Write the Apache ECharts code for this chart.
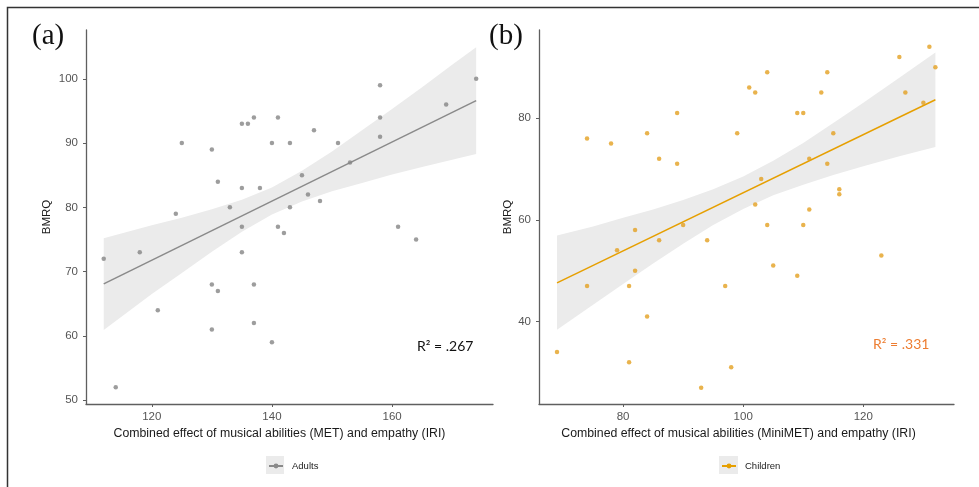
<!DOCTYPE html>
<html>
<head>
<meta charset="utf-8">
<title>BMRQ vs combined effect</title>
<script src="https://cdn.jsdelivr.net/npm/echarts@6/dist/echarts.min.js"></script>
<style>
  html, body { margin: 0; padding: 0; background: #fff; }
  #chart { width: 979px; height: 487px; }
</style>
</head>
<body>
<div id="chart"></div>
<script>
// (a) adults
var adultsX = [112,114,118,121,124,125,130,130,130,131,131,133,135,135,135,135,136,137,137,137,138,140,140,141,141,142,143,143,145,146,147,148,151,153,158,158,158,161,164,169,174];
var adultsY = [72,52,73,64,79,90,89,68,61,84,67,80,93,83,77,73,93,94,68,62,83,90,59,94,77,76,90,80,85,82,92,81,90,87,99,94,91,77,75,96,100];
var adultsFitX = [112, 174];
var adultsFitY = [68.1, 96.6];
var adultsBandX = [112, 120, 125, 130, 135, 140, 145, 150, 155, 160, 165, 170, 174];
var adultsBandLow = [60.9, 66.5, 69.8, 73.1, 76.2, 78.9, 80.9, 82.5, 83.8, 85.1, 86.3, 87.4, 88.3];
var adultsBandHigh = [75.2, 77.2, 78.4, 79.7, 81.2, 83.1, 85.7, 88.7, 92.0, 95.3, 98.7, 102.2, 104.9];
var adultsXTicks = [120, 140, 160];
var adultsYTicks = [50, 60, 70, 80, 90, 100];

// (b) children
var childX = [69,74,74,78,79,81,81,82,82,84,84,86,86,89,89,90,93,94,97,98,99,101,102,102,103,104,104,105,109,109,110,110,111,111,113,114,114,115,116,116,123,126,127,130,131,132];
var childY = [34,76,47,75,54,47,32,58,50,77,41,72,56,81,71,59,27,56,47,31,77,86,85,63,68,89,59,51,81,49,81,59,72,62,85,89,71,77,66,65,53,92,85,83,94,90];
var childFitX = [69, 132];
var childFitY = [47.6, 83.6];
var childBandX = [69, 75, 80, 85, 90, 95, 100, 105, 110, 115, 120, 126, 132];
var childBandLow = [38.4, 43.3, 47.4, 51.4, 55.3, 59.0, 62.1, 64.8, 66.9, 68.8, 70.5, 72.5, 74.3];
var childBandHigh = [56.9, 58.7, 60.4, 62.0, 63.9, 66.0, 68.5, 71.6, 75.1, 79.0, 83.0, 87.9, 92.9];
var childXTicks = [80, 100, 120];
var childYTicks = [40, 60, 80];

var font = 'Liberation Sans, Arial, sans-serif';
var axisColor = '#5f5f5f';

function pairs(xs, ys) {
  return xs.map(function (x, i) { return [x, ys[i]]; });
}

function bandItem(xs, lo, hi) {
  return function (params, api) {
    var pts = [];
    for (var i = 0; i < xs.length; i++) pts.push(api.coord([xs[i], hi[i]]));
    for (var j = xs.length - 1; j >= 0; j--) pts.push(api.coord([xs[j], lo[j]]));
    return { type: 'polygon', shape: { points: pts }, style: { fill: '#ebebeb' } };
  };
}

function xAxis(idx, min, max, ticks, name, shift) {
  return {
    type: 'value', gridIndex: idx, min: min, max: max,
    name: name, nameLocation: 'middle', nameGap: 21,
    nameTextStyle: { color: '#1a1a1a', fontSize: 12.3, fontFamily: font, padding: [0, shift, 0, 0] },
    splitLine: { show: false },
    axisLine: { onZero: false, lineStyle: { color: axisColor, width: 1.3 } },
    axisTick: { customValues: ticks, length: 3, lineStyle: { color: axisColor } },
    axisLabel: { customValues: ticks, color: '#555', fontSize: 11.5, margin: 7, fontFamily: font }
  };
}

function yAxis(idx, min, max, ticks, gap) {
  return {
    type: 'value', gridIndex: idx, min: min, max: max,
    name: 'BMRQ', nameLocation: 'middle', nameGap: gap,
    nameTextStyle: { color: '#1a1a1a', fontSize: 11.5, fontFamily: font },
    splitLine: { show: false },
    axisLine: { onZero: false, lineStyle: { color: axisColor, width: 1.3 } },
    axisTick: { customValues: ticks, length: 3, lineStyle: { color: axisColor } },
    axisLabel: { customValues: ticks, color: '#555', fontSize: 11.5, margin: 8, fontFamily: font }
  };
}

var chart = echarts.init(document.getElementById('chart'));
chart.setOption({
  animation: false,
  backgroundColor: '#fff',
  grid: [
    { left: 86, top: 30, width: 407, height: 374, outerBoundsMode: 'none' },
    { left: 539, top: 30, width: 415, height: 374, outerBoundsMode: 'none' }
  ],
  xAxis: [
    xAxis(0, 109.05, 176.8, adultsXTicks, 'Combined effect of musical abilities (MET) and empathy (IRI)', 20),
    xAxis(1, 66, 135.1, childXTicks, 'Combined effect of musical abilities (MiniMET) and empathy (IRI)', 16)
  ],
  yAxis: [
    yAxis(0, 49.4, 107.6, adultsYTicks, 33),
    yAxis(1, 23.8, 97.3, childYTicks, 23)
  ],
  legend: [
    { data: ['Adults'], left: 268, top: 461, padding: 0, itemWidth: 14, itemHeight: 6, itemGap: 0,
      textStyle: { fontSize: 9.5, color: '#222', fontFamily: font, padding: [0, 0, 0, 4] } },
    { data: ['Children'], left: 721, top: 461, padding: 0, itemWidth: 14, itemHeight: 6, itemGap: 0,
      textStyle: { fontSize: 9.5, color: '#222', fontFamily: font, padding: [0, 0, 0, 4] } }
  ],
  series: [
    { type: 'custom', xAxisIndex: 0, yAxisIndex: 0, z: 1, silent: true,
      renderItem: bandItem(adultsBandX, adultsBandLow, adultsBandHigh), data: [[adultsBandX[0], adultsBandLow[0]]] },
    { name: 'Adults', type: 'line', xAxisIndex: 0, yAxisIndex: 0, z: 2,
      data: pairs(adultsFitX, adultsFitY), showSymbol: false, symbol: 'circle', symbolSize: 4,
      itemStyle: { color: '#8a8a8a' }, lineStyle: { color: '#8a8a8a', width: 1.5 } },
    { type: 'scatter', xAxisIndex: 0, yAxisIndex: 0, z: 3,
      data: pairs(adultsX, adultsY), symbolSize: 4.5, itemStyle: { color: '#858585' } },

    { type: 'custom', xAxisIndex: 1, yAxisIndex: 1, z: 1, silent: true,
      renderItem: bandItem(childBandX, childBandLow, childBandHigh), data: [[childBandX[0], childBandLow[0]]] },
    { name: 'Children', type: 'line', xAxisIndex: 1, yAxisIndex: 1, z: 2,
      data: pairs(childFitX, childFitY), showSymbol: false, symbol: 'circle', symbolSize: 4,
      itemStyle: { color: '#E69F00' }, lineStyle: { color: '#E69F00', width: 1.5 } },
    { type: 'scatter', xAxisIndex: 1, yAxisIndex: 1, z: 3,
      data: pairs(childX, childY), symbolSize: 4.5, itemStyle: { color: '#E3A020' } }
  ],
  graphic: [
    // outer frame (top and left edges)
    { type: 'polyline', z: 10, shape: { points: [[7.5, 487], [7.5, 7.5], [979, 7.5]] },
      style: { stroke: '#333', lineWidth: 1.5, fill: null } },
    // legend key backgrounds
    { type: 'rect', z: 0, shape: { x: 266, y: 456, width: 18, height: 18 }, style: { fill: '#ebebeb' } },
    { type: 'rect', z: 0, shape: { x: 719, y: 456, width: 19, height: 18 }, style: { fill: '#ebebeb' } },
    // panel tags
    { type: 'text', left: 32, top: 22, style: { text: '(a)', font: '29px "Liberation Serif", serif', fill: '#111' } },
    { type: 'text', left: 489, top: 22, style: { text: '(b)', font: '29px "Liberation Serif", serif', fill: '#111' } },
    // R squared notes
    { type: 'text', left: 417, top: 339, style: { text: 'R² = .267', font: '14px Lato, sans-serif', fill: '#111' } },
    { type: 'text', left: 873, top: 337, style: { text: 'R² = .331', font: '14px Lato, sans-serif', fill: '#ED7D31' } }
  ]
});
</script>
</body>
</html>
